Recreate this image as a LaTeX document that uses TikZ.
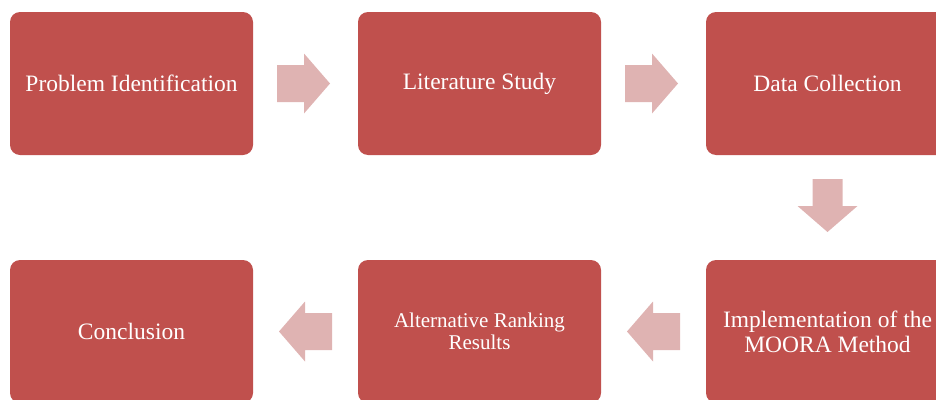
\documentclass[tikz,border=0pt]{standalone}
\usepackage{fontspec}
\setmainfont{Liberation Serif}
\usetikzlibrary{calc,positioning}

\definecolor{boxred}{HTML}{C0504D}
\definecolor{arrowpink}{HTML}{DFB3B2}

\tikzset{
  stepbox/.style={rectangle, rounded corners=10pt, fill=boxred, text=white,
    minimum width=243pt, minimum height=143pt, inner sep=2pt, align=center,
    font=\fontsize{23.5}{25}\selectfont},
  blockarrow/.pic={
    \fill[arrowpink] (-26.5,-#1) -- (0.5,-#1) -- (0.5,-30) -- (26.5,0)
      -- (0.5,30) -- (0.5,#1) -- (-26.5,#1) -- cycle;
  }
}

\begin{document}
\begin{tikzpicture}[x=1pt, y=-1pt]
  \path[use as bounding box] (0,0) rectangle (936,399);
  \clip (0,0) rectangle (936,399);

  % steps
  \node[stepbox] (problem) at (131.5,83.5) {Problem Identification};
  \node[stepbox] (literature) at (479.5,83.5) {Literature Study};
  \node[stepbox] (data) at (827.5,83.5) {Data Collection};
  \node[stepbox] (moora) at (827.5,331.5) {Implementation of the\\MOORA Method};
  \node[stepbox, font=\fontsize{21}{22}\selectfont] (ranking) at (479.5,331.5) {Alternative Ranking\\Results};
  \node[stepbox] (conclusion) at (131.5,331.5) {Conclusion};

  % block arrows between steps
  \coordinate (a1) at ($(problem.east)!0.5!(literature.west)+(-2,0)$);
  \coordinate (a2) at ($(literature.east)!0.5!(data.west)+(-2,0)$);
  \coordinate (a3) at ($(data.south)!0.5!(moora.north)+(0,-2)$);
  \coordinate (a4) at ($(moora.west)!0.5!(ranking.east)$);
  \coordinate (a5) at ($(ranking.west)!0.5!(conclusion.east)$);
  \pic at (a1) {blockarrow=18.5};
  \pic at (a2) {blockarrow=18.5};
  \pic[rotate=-90] at (a3) {blockarrow=15};
  \pic[rotate=180] at (a4) {blockarrow=18.5};
  \pic[rotate=180] at (a5) {blockarrow=18.5};
\end{tikzpicture}
\end{document}
